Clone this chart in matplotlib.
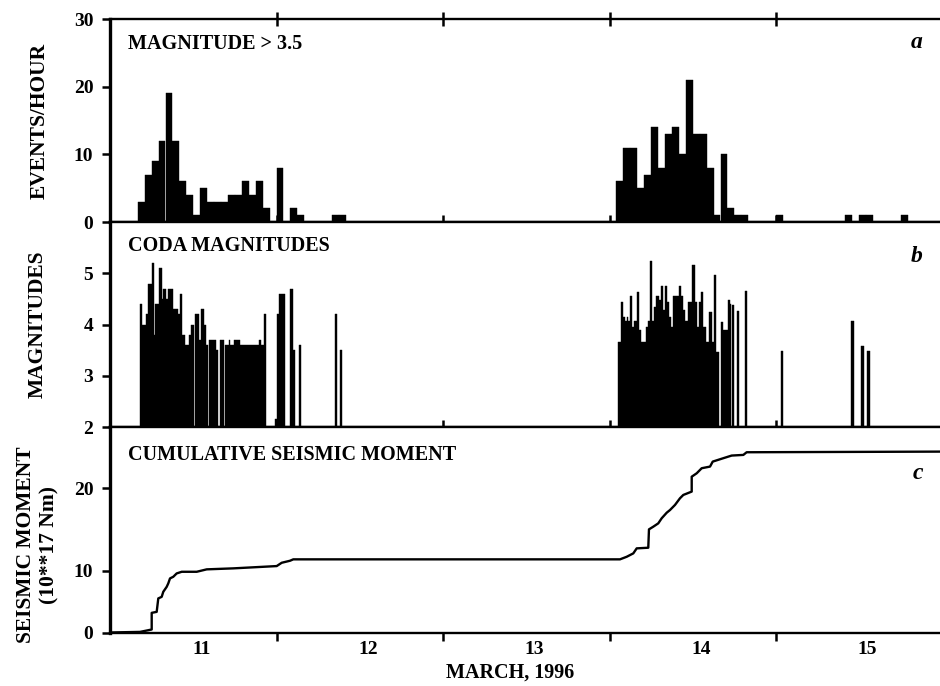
import numpy as np
import matplotlib
matplotlib.use('Agg')
import matplotlib.pyplot as plt

plt.rcParams['font.family'] = 'Liberation Serif'
plt.rcParams['font.weight'] = 'bold'
plt.rcParams['axes.labelweight'] = 'bold'

# all times are hours counted from 11 March 1996, 00:00
# panel a: events per hour with magnitude > 3.5 (bin start hour, count)
rate_hours = [4, 5, 6, 7, 8, 9, 10, 11, 12, 13, 14, 15, 16, 17, 18, 19, 20, 21, 22,
              24, 26, 27, 32, 33,
              73, 74, 75, 76, 77, 78, 79, 80, 81, 82, 83, 84, 85, 86, 87, 88, 89, 90, 91,
              96, 106, 108, 109, 114]
rate_counts = [3, 7, 9, 12, 19, 12, 6, 4, 1, 5, 3, 3, 3, 4, 4, 6, 4, 6, 2,
               8, 2, 1, 1, 1,
               6, 11, 11, 5, 7, 14, 8, 13, 14, 10, 21, 13, 13, 8, 1, 10, 2, 1, 1,
               1, 1, 1, 1, 1]

# panel b: coda magnitudes (start hour, end hour, magnitude)
mag_start = [4.33, 4.58, 5.20, 5.54, 6.07, 6.36, 6.45, 7.13, 7.47, 7.61, 8.09, 8.33,
             9.01, 9.78, 10.12, 10.45, 10.74, 11.32, 11.71, 12.28, 12.76, 13.10, 13.49,
             13.87, 14.31, 15.32, 15.90, 16.62, 17.10, 17.34, 17.92, 18.79, 21.44, 21.82,
             22.16, 23.84, 24.08, 24.33, 26.01, 26.35, 27.22, 32.37, 33.14,
             73.22, 73.60, 73.89, 74.18, 74.47, 74.66, 75.00, 75.24, 75.53, 75.92, 76.21,
             76.49, 77.31, 77.55, 77.79, 78.13, 78.42, 78.76, 79.10, 79.38, 79.72, 80.06,
             80.30, 80.59, 80.93, 81.21, 81.98, 82.27, 82.61, 82.95, 83.33, 83.96, 84.30,
             84.63, 84.92, 85.16, 85.50, 85.98, 86.32, 86.71, 87.04, 87.28, 88.01, 88.30,
             89.02, 89.36, 89.65, 90.32, 91.52, 96.68, 106.84, 108.29, 109.11]
mag_end = [4.58, 5.20, 5.54, 6.07, 6.36, 6.45, 7.13, 7.47, 7.61, 8.09, 8.33, 9.01,
           9.78, 10.12, 10.45, 10.74, 11.32, 11.71, 12.14, 12.76, 13.10, 13.49, 13.87,
           14.16, 15.32, 15.51, 16.47, 17.10, 17.34, 17.92, 18.79, 21.44, 21.82, 22.16,
           22.54, 24.08, 24.33, 25.29, 26.35, 26.73, 27.60, 32.76, 33.43,
           73.60, 73.89, 74.18, 74.47, 74.66, 75.00, 75.24, 75.53, 75.92, 76.21, 76.49,
           77.31, 77.55, 77.79, 78.13, 78.42, 78.76, 79.10, 79.38, 79.72, 80.06, 80.30,
           80.59, 80.93, 81.21, 81.98, 82.27, 82.61, 82.95, 83.33, 83.96, 84.30, 84.63,
           84.92, 85.16, 85.50, 85.98, 86.32, 86.71, 87.04, 87.28, 87.77, 88.30, 89.02,
           89.36, 89.55, 89.89, 90.70, 91.86, 97.01, 107.18, 108.67, 109.49]
mag_value = [4.4, 4.0, 4.2, 4.8, 5.2, 3.8, 4.4, 5.1, 4.5, 4.7, 4.5, 4.7,
             4.3, 4.2, 4.6, 3.8, 3.6, 3.8, 4.0, 4.2, 3.7, 4.3, 4.0,
             3.6, 3.7, 3.5, 3.7, 3.6, 3.7, 3.6, 3.7, 3.6, 3.7, 3.6,
             4.2, 2.15, 4.2, 4.6, 4.7, 3.5, 3.6, 4.2, 3.5,
             3.66, 4.44, 4.15, 4.07, 4.15, 4.07, 4.55, 3.95, 4.07, 4.64, 3.89,
             3.66, 3.95, 4.07, 5.24, 4.07, 4.34, 4.55, 4.47, 4.75, 4.28, 4.75,
             4.44, 4.15, 3.95, 4.55, 4.75, 4.55, 4.28, 4.07, 4.44, 5.16, 4.44,
             3.95, 4.44, 4.64, 3.95, 3.66, 4.25, 3.66, 4.96, 3.47, 4.05, 3.89,
             4.47, 4.4, 4.38, 4.26, 4.66, 3.49, 4.07, 3.58, 3.49]

# panel c: cumulative seismic moment (10**17 Nm)
mom_hours = [0, 4.32, 5.52, 6.01, 6.01, 6.73, 6.96, 7.45, 7.68, 8.17, 8.40, 8.65, 9.12,
             9.61, 10.34, 12.50, 13.94, 17.77, 24.03, 24.75, 25.95, 26.42, 73.51, 74.48,
             75.43, 75.92, 77.59, 77.69, 78.31, 79.03, 79.52, 80.25, 80.72, 81.44, 82.16,
             82.64, 83.85, 83.85, 84.57, 85.29, 86.49, 86.88, 88.40, 89.61, 91.29, 91.77, 120]
mom_value = [0, 0.23, 0.68, 0.85, 3.93, 4.09, 6.16, 6.39, 7.12, 7.82, 8.30, 8.98, 9.20,
             9.65, 9.87, 9.87, 10.19, 10.32, 10.62, 11.05, 11.31, 11.49, 11.49, 11.82,
             12.25, 12.88, 12.96, 15.21, 15.53, 15.93, 16.53, 17.19, 17.50, 18.09, 18.86,
             19.24, 19.62, 21.30, 21.68, 22.24, 22.42, 22.97, 23.34, 23.63, 23.70, 23.99, 24.06]

day_labels = ['11', '12', '13', '14', '15']
day_edges = [12, 13, 14, 15]


def to_day(h):
    return 11 + np.asarray(h, dtype=float) / 24.0


W, H = 940, 686


def box(x0, y0, x1, y1):
    return [x0 / W, 1 - y1 / H, (x1 - x0) / W, (y1 - y0) / H]


fig = plt.figure(figsize=(9.4, 6.86), dpi=100)
ax_a = fig.add_axes(box(110, 19, 940, 222))
ax_b = fig.add_axes(box(110, 222, 940, 427))
ax_c = fig.add_axes(box(110, 427, 940, 632.5))

# a
ax_a.bar(to_day(rate_hours), rate_counts, width=1 / 24, align='edge',
         color='k', edgecolor='k', linewidth=0.3)
ax_a.set_ylim(0, 30)
ax_a.set_yticks([0, 10, 20, 30])

# b
widths = (np.array(mag_end) - np.array(mag_start)) / 24
ax_b.bar(to_day(mag_start), mag_value, width=widths, align='edge',
         color='k', edgecolor='k', linewidth=0.3)
ax_b.set_ylim(2, 6)
ax_b.set_yticks([2, 3, 4, 5])


# c (stretched moment axis as in the original)
def fwd(v):
    return np.sign(v) * np.abs(v) ** 1.225


def inv(u):
    return np.sign(u) * np.abs(u) ** (1 / 1.225)


ax_c.plot(to_day(mom_hours), mom_value, color='k', lw=1.7)
ax_c.set_yscale('function', functions=(fwd, inv))
ax_c.set_ylim(0, 26.7)
ax_c.set_yticks([0, 10, 20])
ax_c.set_yticklabels(['0', '10', '20'])

for ax in (ax_a, ax_b, ax_c):
    ax.set_xlim(11, 11 + 830 / 166.5)
    ax.set_xticks(day_edges)
    ax.spines['right'].set_visible(False)
    ax.spines['left'].set_linewidth(2.4)
    ax.spines['top'].set_linewidth(1.7)
    ax.spines['bottom'].set_linewidth(1.7)
    ax.tick_params(axis='y', direction='out', length=6, width=1.8, pad=6, labelsize=14)
    ax.tick_params(axis='x', which='major', width=1.8, labelbottom=False)

ax_a.tick_params(axis='x', which='major', direction='inout', length=10, top=True, bottom=True)
ax_b.tick_params(axis='x', which='major', direction='inout', length=10, top=False, bottom=True)
ax_c.tick_params(axis='x', which='major', direction='out', length=6, top=False, bottom=True)

ax_c.set_xticks(np.arange(11, 16) + 0.55, day_labels, minor=True)
ax_c.tick_params(axis='x', which='minor', length=0, pad=6, labelsize=14)

# labels
ax_a.set_ylabel('EVENTS/HOUR', fontsize=15.5, fontweight='bold', va='center')
ax_a.yaxis.set_label_coords(-0.0843, 0.5)
ax_b.set_ylabel('MAGNITUDES', fontsize=15.5, fontweight='bold', va='center')
ax_b.yaxis.set_label_coords(-0.0873, 0.5)
ax_c.set_ylabel('SEISMIC MOMENT\n(10**17 Nm)', fontsize=15.5, fontweight='bold',
                va='center', linespacing=1.2)
ax_c.yaxis.set_label_coords(-0.0873, 0.426)
ax_c.set_xlabel('MARCH, 1996', fontsize=14.5, fontweight='bold')
ax_c.xaxis.set_label_coords(0.482, -0.148)

ax_a.text(0.022, 0.852, 'MAGNITUDE > 3.5', transform=ax_a.transAxes, fontsize=14.5, va='baseline')
ax_b.text(0.022, 0.859, 'CODA MAGNITUDES', transform=ax_b.transAxes, fontsize=14.5, va='baseline')
ax_c.text(0.022, 0.84, 'CUMULATIVE SEISMIC MOMENT', transform=ax_c.transAxes, fontsize=14.5, va='baseline')

ax_a.text(0.9795, 0.857, 'a', transform=ax_a.transAxes, fontsize=17, style='italic', ha='right', va='baseline')
ax_b.text(0.9795, 0.805, 'b', transform=ax_b.transAxes, fontsize=17, style='italic', ha='right', va='baseline')
ax_c.text(0.9795, 0.747, 'c', transform=ax_c.transAxes, fontsize=17, style='italic', ha='right', va='baseline')

fig.savefig('out.png', dpi=100)
